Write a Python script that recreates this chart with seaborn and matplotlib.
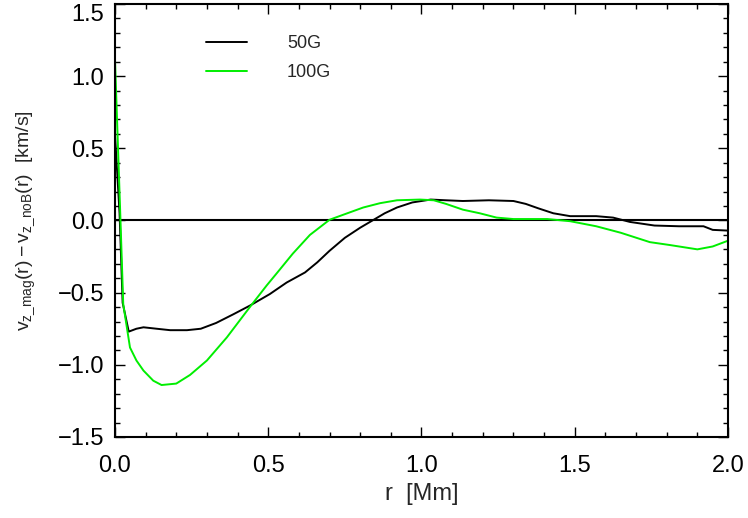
"""Velocity difference profile, magnetic vs. non-magnetic run."""

import matplotlib
matplotlib.use("Agg")
import matplotlib.pyplot as plt
from matplotlib.ticker import MultipleLocator
import seaborn as sns

# radius [Mm] and v_z difference [km/s]
r_50g = [0.0, 0.015, 0.025, 0.045, 0.07, 0.093, 0.136, 0.18, 0.235, 0.28,
         0.33, 0.386, 0.44, 0.505, 0.56, 0.62, 0.66, 0.70, 0.75, 0.80,
         0.84, 0.88, 0.92, 0.97, 1.03, 1.08, 1.135, 1.22, 1.30, 1.34,
         1.38, 1.43, 1.485, 1.57, 1.625, 1.68, 1.76, 1.84, 1.92, 1.95, 2.0]
dv_50g = [0.6, 0.05, -0.57, -0.77, -0.75, -0.74, -0.75, -0.76, -0.76, -0.75,
          -0.71, -0.65, -0.59, -0.51, -0.43, -0.36, -0.29, -0.21, -0.12, -0.05,
          0.0, 0.05, 0.09, 0.125, 0.145, 0.14, 0.135, 0.14, 0.135, 0.115,
          0.085, 0.05, 0.03, 0.03, 0.02, -0.01, -0.035, -0.04, -0.04, -0.065, -0.07]

r_100g = [0.0, 0.018, 0.027, 0.049, 0.07, 0.093, 0.125, 0.152, 0.20, 0.245,
          0.30, 0.365, 0.44, 0.495, 0.53, 0.58, 0.636, 0.70, 0.745, 0.81,
          0.865, 0.92, 0.995, 1.04, 1.08, 1.135, 1.19, 1.245, 1.30, 1.41,
          1.485, 1.57, 1.65, 1.745, 1.81, 1.90, 1.95, 2.0]
dv_100g = [1.12, 0.0, -0.58, -0.88, -0.97, -1.04, -1.11, -1.14, -1.13, -1.07,
           -0.97, -0.81, -0.60, -0.45, -0.36, -0.23, -0.10, 0.005, 0.04, 0.09,
           0.12, 0.14, 0.145, 0.14, 0.115, 0.075, 0.05, 0.02, 0.01, 0.01,
           -0.005, -0.04, -0.085, -0.15, -0.17, -0.20, -0.18, -0.14]

x_ticks = [0.0, 0.5, 1.0, 1.5, 2.0]
y_ticks = [-1.5, -1.0, -0.5, 0.0, 0.5, 1.0, 1.5]


def main() -> None:
    sns.set_style("ticks")
    plt.rcParams["font.family"] = ["Liberation Sans", "DejaVu Sans"]
    plt.rcParams["mathtext.fontset"] = "custom"
    plt.rcParams["mathtext.rm"] = "Liberation Sans"
    plt.rcParams["mathtext.it"] = "Liberation Sans"

    fig = plt.figure(figsize=(7.48, 5.18), dpi=100)
    ax = fig.add_axes([0.1537, 0.1564, 0.8196, 0.8359])

    ax.axhline(0, color="black", lw=1.5, zorder=1)
    sns.lineplot(x=r_50g, y=dv_50g, ax=ax, color="black", lw=1.4,
                 label="50G", sort=False, estimator=None)
    sns.lineplot(x=r_100g, y=dv_100g, ax=ax, color="#00ee00", lw=1.4,
                 label="100G", sort=False, estimator=None)

    ax.set_xlim(0, 2.0)
    ax.set_ylim(-1.5, 1.5)
    ax.set_xticks(x_ticks)
    ax.set_yticks(y_ticks)
    ax.set_xticklabels([f"{t:.1f}" for t in x_ticks])
    ax.set_yticklabels([f"{t:.1f}".replace("-", "\u2212") for t in y_ticks])
    ax.xaxis.set_minor_locator(MultipleLocator(0.1))
    ax.yaxis.set_minor_locator(MultipleLocator(0.1))
    ax.tick_params(which="both", direction="in", top=True, right=True,
                   width=1.0, colors="black")
    ax.tick_params(which="major", length=7.5, labelsize=17)
    ax.tick_params(which="minor", length=3.8)
    ax.tick_params(axis="x", which="major", pad=13)
    ax.tick_params(axis="y", which="major", pad=8)
    ax.get_yticklabels()[-1].set_va("top")
    for s in ax.spines.values():
        s.set_linewidth(1.5)
        s.set_color("black")

    ax.set_xlabel("r  [Mm]", fontsize=17, labelpad=4)
    ax.set_ylabel(r"$\mathregular{v_{z\_mag}(r)-v_{z\_noB}(r)}$  [km/s]",
                  fontsize=14, labelpad=15)

    ax.legend(loc="upper left", bbox_to_anchor=(0.148, 0.928), frameon=False,
              fontsize=13, handlelength=2.3, handletextpad=2.2,
              labelspacing=0.67, borderpad=0, borderaxespad=0)

    fig.savefig("out.png", dpi=100)
    plt.close(fig)


if __name__ == "__main__":
    main()
